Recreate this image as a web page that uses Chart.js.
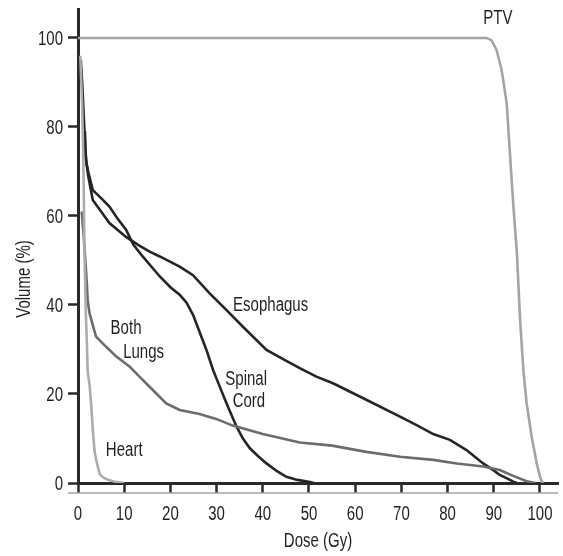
<!DOCTYPE html>
<html>
<head>
<meta charset="utf-8">
<script src="https://cdn.jsdelivr.net/npm/chart.js@4.4.1/dist/chart.umd.min.js"></script>
<style>
  html, body { margin: 0; padding: 0; background: #fff; }
  #wrap { width: 563px; height: 556px; }
</style>
</head>
<body>
<div id="wrap"><canvas id="dvh"></canvas></div>
<script>
// dose-volume histogram, values (dose in Gy, volume in %)
const ptvDose = [0, 88.4, 89.5, 90.6, 91.7, 92.8, 93.5, 94.2, 95.0, 95.7, 96.4, 97.1, 98.2, 99.3, 100.0, 100.4, 100.7];
const ptvVol  = [100, 100, 99.5, 97.3, 92.8, 85.3, 74, 62.9, 51.7, 36.6, 25.4, 18, 10.4, 4.4, 1.4, 0.3, 0];

const esoDose = [0.6, 0.9, 1.4, 1.7, 2.2, 3.2, 5, 6.8, 10.4, 13, 15.5, 17.7, 22, 24.9, 28.5, 32.1, 35.7, 40.8, 45, 48, 51.6, 55.2, 62.4, 69.7, 73.3, 76.9, 80.5, 84.1, 87.7, 89.9, 91.3, 93.5, 94.2, 95];
const esoVol  = [95, 90, 79, 73, 69, 63.6, 61, 58.4, 55.3, 53.5, 52, 50.9, 48.6, 46.7, 42.6, 38.9, 35.1, 29.9, 27.5, 25.8, 23.9, 22.4, 18.7, 14.9, 13, 11, 9.7, 7.4, 4.4, 2.9, 1.8, 0.7, 0.3, 0];

const cordDose = [1.5, 1.6, 1.8, 2.2, 3.2, 5, 6.8, 8.5, 10.4, 12, 14, 17.7, 20, 22, 23.5, 24.9, 26.3, 27.8, 29.2, 30.7, 32.5, 34.3, 35.7, 37.2, 39, 40.8, 43, 45.1, 47.5, 50.2, 51];
const cordVol  = [79, 75, 72, 70, 65.8, 64, 62.1, 59.5, 56.9, 53.5, 50.9, 46.4, 44, 42.3, 40.5, 37.8, 34, 29.9, 25.5, 21.6, 17, 12.7, 10, 7.8, 6, 4.4, 2.7, 1.4, 0.7, 0.2, 0];

const lungDose = [0.8, 1.2, 1.6, 1.9, 2.1, 2.5, 3.9, 6.1, 8.3, 11.2, 13.3, 16.2, 19.1, 22, 26.3, 29.9, 33.5, 40, 48, 55, 62.4, 69.7, 76.9, 82, 87.7, 91.3, 94.2, 97.1, 99];
const lungVol  = [61, 56, 50, 45, 41, 38.1, 32.9, 30.6, 28.4, 26.1, 23.9, 20.9, 17.9, 16.4, 15.5, 14.4, 12.9, 11, 9.1, 8.4, 7.0, 5.9, 5.2, 4.4, 3.7, 2.9, 1.6, 0.4, 0];

const heartDose = [0.5, 0.9, 1.2, 1.4, 1.7, 1.9, 2.1, 2.5, 2.9, 3.2, 3.6, 4.2, 4.7, 5.5, 6.8, 8, 10];
const heartVol  = [96, 85, 70, 52, 38, 32, 25, 22, 17, 12, 7, 4, 2, 1.2, 0.6, 0.3, 0];

const xTicks = [0, 10, 20, 30, 40, 50, 60, 70, 80, 90, 100];
const yTicks = [0, 20, 40, 60, 80, 100];

// curve labels, centred at these data coordinates
const tagText = ['PTV', 'Esophagus', 'Spinal', 'Cord', 'Both', 'Lungs', 'Heart'];
const tagDose = [90.9, 41.7, 36.4, 37.0, 10.4, 14.2, 10.0];
const tagVol  = [104.6, 40.2, 23.6, 18.7, 35.0, 29.7, 7.6];

const ink = '#231f20';
const face = '19.5px "Liberation Sans", Arial, sans-serif';
const squeeze = 0.77; // the source uses a condensed face

function pts(xs, ys) {
  return xs.map((x, i) => ({ x: x, y: ys[i] }));
}

function curve(label, xs, ys, color) {
  return {
    label: label,
    data: pts(xs, ys),
    borderColor: color,
    borderWidth: 2.6,
    pointRadius: 0,
    tension: 0,
    fill: false
  };
}

function narrow(ctx, text, px, py, align, rot) {
  ctx.save();
  ctx.translate(px, py);
  if (rot) ctx.rotate(rot);
  ctx.scale(squeeze, 1);
  ctx.textAlign = align;
  ctx.textBaseline = 'alphabetic';
  ctx.fillText(text, 0, 0);
  ctx.restore();
}

const extras = {
  id: 'extras',
  afterDraw(chart) {
    const { ctx } = chart;
    const x = chart.scales.x, y = chart.scales.y;
    const zero = y.getPixelForValue(0);
    ctx.save();
    // light line closing the bottom of the x ticks
    ctx.strokeStyle = '#a3a3a3';
    ctx.lineWidth = 1.5;
    ctx.beginPath();
    ctx.moveTo(x.left - 10, zero + 10);
    ctx.lineTo(x.right, zero + 10);
    ctx.stroke();

    ctx.fillStyle = ink;
    ctx.font = face;
    x.ticks.forEach(t => narrow(ctx, String(t.value), x.getPixelForValue(t.value), zero + 37, 'center'));
    y.ticks.forEach(t => narrow(ctx, String(t.value), x.left - 15, y.getPixelForValue(t.value) + 7, 'right'));

    tagText.forEach((t, i) => {
      narrow(ctx, t, x.getPixelForValue(tagDose[i]), y.getPixelForValue(tagVol[i]) + 7, 'center');
    });

    narrow(ctx, 'Dose (Gy)', (x.left + x.right) / 2, 547, 'center');
    narrow(ctx, 'Volume (%)', 30, 279, 'center', -Math.PI / 2);
    ctx.restore();
  }
};

new Chart(document.getElementById('dvh'), {
  type: 'line',
  data: {
    datasets: [
      curve('PTV', ptvDose, ptvVol, '#a4a4a4'),
      curve('Heart', heartDose, heartVol, '#acacac'),
      curve('Both Lungs', lungDose, lungVol, '#6c6c6c'),
      curve('Esophagus', esoDose, esoVol, '#252525'),
      curve('Spinal Cord', cordDose, cordVol, '#252525')
    ]
  },
  options: {
    responsive: true,
    maintainAspectRatio: false,
    animation: false,
    layout: { padding: { top: 9, right: 5, left: 0, bottom: 0 } },
    plugins: { legend: { display: false }, tooltip: { enabled: false } },
    scales: {
      x: {
        type: 'linear',
        min: 0,
        max: 103.9,
        afterBuildTicks: s => { s.ticks = xTicks.map(v => ({ value: v })); },
        afterFit: s => { s.height = 73; },
        grid: { drawOnChartArea: false, tickLength: 10, tickWidth: 2.5, tickColor: '#2a2a2a' },
        border: { color: '#2a2a2a', width: 3 },
        ticks: { display: false }
      },
      y: {
        type: 'linear',
        min: 0,
        max: 106.5,
        afterBuildTicks: s => { s.ticks = yTicks.map(v => ({ value: v })); },
        afterFit: s => { s.width = 78; },
        grid: { drawOnChartArea: false, tickLength: 10, tickWidth: 2.5, tickColor: '#2a2a2a' },
        border: { color: '#2a2a2a', width: 3 },
        ticks: { display: false }
      }
    }
  },
  plugins: [extras]
});
</script>
</body>
</html>
